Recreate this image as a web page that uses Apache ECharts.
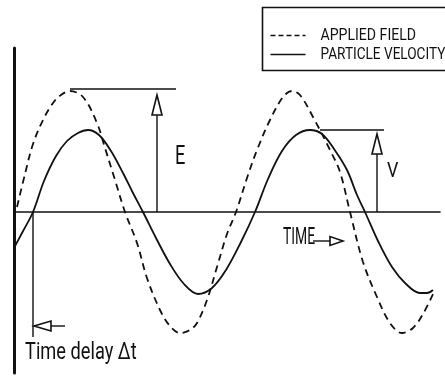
<!DOCTYPE html>
<html>
<head>
<meta charset="utf-8">
<script src="https://cdn.jsdelivr.net/npm/echarts@6/dist/echarts.min.js"></script>
<style>
  html, body { margin: 0; padding: 0; background: #fff; }
  #chart { width: 445px; height: 376px; }
</style>
</head>
<body>
<div id="chart"></div>
<script>
// Applied field (dashed) sampled over time: [time, amplitude]
const fieldTime   = [3, 11, 19, 29, 39, 47, 56, 69, 83, 91, 101, 111, 123, 133, 146, 156, 166, 176, 183, 193, 203, 213, 222, 233, 243, 256, 269, 278, 286, 299, 316, 326, 336, 349, 363, 376, 388, 399, 409, 419];
const fieldValues = [5, 38, 68, 92, 109, 117, 121, 115, 89, 64, 32, 0, -31, -66, -98, -114, -121, -118, -111, -88, -55, -22, 0, 34, 62, 92, 115, 121, 117, 95, 62, 40, 0, -50, -85, -111, -121, -116, -102, -82];

// Particle velocity (solid), lagging the field
const velocityTime   = [0, 8, 19, 30, 42, 53, 64, 74, 85, 97, 109, 119, 129, 142, 156, 170, 184, 198, 212, 227, 241, 254, 268, 282, 296, 308, 320, 333, 343, 351, 364, 378, 392, 406, 413, 419];
const velocityValues = [-36, -21, 0, 31, 56, 71, 79, 82, 77, 61, 39, 19, 0, -26, -52, -72, -82, -76, -58, -30, 0, 33, 61, 77, 82, 78, 63, 42, 17, 0, -29, -55, -72, -81, -81, -78];

// Legend entries
const seriesNames = ['APPLIED FIELD', 'PARTICLE VELOCITY'];

// Annotation geometry in chart units
const fieldPeak = 123;          // E level
const velocityPeak = 82;        // V level
const eLevel = { from: 56, to: 162, arrowX: 143, tip: 117 };
const vLevel = { from: 306, to: 370, arrowX: 363, tip: 78 };
const delay = { x: 19, bottom: -125, arrowY: -114, tail: 51 };
const timeArrow = { from: 299, to: 329, y: -29 };
const labels = [
  { text: 'E', x: 161, y: 55, size: 26, sx: 0.7 },
  { text: 'V', x: 373, y: 40, size: 21, sx: 0.85 },
  { text: 'TIME', x: 269, y: -26, size: 24, sx: 0.58 },
  { text: 'Time delay Δt', x: 11, y: -141, size: 24, sx: 0.76 }
];

const FONT = 'Roboto, "DejaVu Sans Condensed", sans-serif';
const INK = '#111';

function pairs(xs, ys) { return xs.map((x, i) => [x, ys[i]]); }

function upArrow(api, x, tip) {
  const t = api.coord([x, tip]);
  const b = api.coord([x, 0]);
  const headLen = 20, half = 5;
  return [
    { type: 'line', shape: { x1: t[0], y1: t[1] + headLen, x2: b[0], y2: b[1] }, style: { stroke: INK, lineWidth: 1.4 } },
    { type: 'polygon', shape: { points: [[t[0], t[1]], [t[0] - half, t[1] + headLen], [t[0] + half, t[1] + headLen]] }, style: { fill: '#fff', stroke: INK, lineWidth: 1.6 } }
  ];
}

function sideArrow(api, tipX, tailX, y, headLen, half, dir) {
  const t = api.coord([tipX, y]);
  const e = api.coord([tailX, y]);
  const base = t[0] - dir * headLen;
  return [
    { type: 'line', shape: { x1: base, y1: t[1], x2: e[0], y2: e[1] }, style: { stroke: INK, lineWidth: 1.4 } },
    { type: 'polygon', shape: { points: [[t[0], t[1]], [base, t[1] - half], [base, t[1] + half]] }, style: { fill: '#fff', stroke: INK, lineWidth: 1.6 } }
  ];
}

function hline(api, x0, x1, y) {
  const a = api.coord([x0, y]), b = api.coord([x1, y]);
  return { type: 'line', shape: { x1: a[0], y1: a[1], x2: b[0], y2: b[1] }, style: { stroke: INK, lineWidth: 1.6 } };
}

function renderAnnotations(params, api) {
  const children = [];
  children.push(hline(api, eLevel.from, eLevel.to, fieldPeak));
  children.push(...upArrow(api, eLevel.arrowX, eLevel.tip));
  children.push(hline(api, vLevel.from, vLevel.to, velocityPeak));
  children.push(...upArrow(api, vLevel.arrowX, vLevel.tip));

  const d0 = api.coord([delay.x, 0]), d1 = api.coord([delay.x, delay.bottom]);
  children.push({ type: 'line', shape: { x1: d0[0], y1: d0[1], x2: d1[0], y2: d1[1] }, style: { stroke: INK, lineWidth: 1.4 } });
  children.push(...sideArrow(api, delay.x + 1, delay.tail, delay.arrowY, 17, 5, -1));
  children.push(...sideArrow(api, timeArrow.to, timeArrow.from, timeArrow.y, 13, 4.5, 1));

  labels.forEach(l => {
    const p = api.coord([l.x, l.y]);
    children.push({
      type: 'text', x: p[0], y: p[1], scaleX: l.sx,
      style: { text: l.text, fill: INK, font: l.size + 'px ' + FONT, textAlign: 'left', textVerticalAlign: 'middle' }
    });
  });
  return { type: 'group', children };
}

const chart = echarts.init(document.getElementById('chart'), null, { renderer: 'canvas' });

chart.setOption({
  backgroundColor: '#fff',
  animation: false,
  grid: { left: 14, right: 5, top: 48, bottom: 3 },
  xAxis: {
    type: 'value', min: 0, max: 426,
    axisLine: { show: true, onZero: true, lineStyle: { color: INK, width: 1.6 } },
    axisTick: { show: false }, axisLabel: { show: false }, splitLine: { show: false }
  },
  yAxis: {
    type: 'value', min: -161, max: 164,
    axisLine: { show: true, lineStyle: { color: INK, width: 3 } },
    axisTick: { show: false }, axisLabel: { show: false }, splitLine: { show: false }
  },
  series: [
    {
      name: seriesNames[0], type: 'line', data: pairs(fieldTime, fieldValues),
      smooth: 0.35, symbol: 'none',
      lineStyle: { color: INK, width: 1.8, type: [7, 5] }
    },
    {
      name: seriesNames[1], type: 'line', data: pairs(velocityTime, velocityValues),
      smooth: 0.35, symbol: 'none',
      lineStyle: { color: INK, width: 1.8 }
    },
    {
      type: 'custom', coordinateSystem: 'cartesian2d', data: [[0, 0]],
      renderItem: renderAnnotations, silent: true, z: 5
    }
  ],
  graphic: [
    {
      type: 'group', left: 260, top: 5,
      children: [
        { type: 'rect', shape: { x: 0, y: 0, width: 190, height: 63 }, style: { fill: 'none', stroke: INK, lineWidth: 1.6 } },
        { type: 'line', shape: { x1: 8, y1: 28, x2: 43, y2: 28 }, style: { stroke: INK, lineWidth: 1.6, lineDash: [5, 3] } },
        { type: 'line', shape: { x1: 8, y1: 47, x2: 43, y2: 47 }, style: { stroke: INK, lineWidth: 1.6 } },
        { type: 'text', x: 58, y: 28, scaleX: 0.88, style: { text: seriesNames[0], fill: INK, font: '16px ' + FONT, textVerticalAlign: 'middle' } },
        { type: 'text', x: 58, y: 47, scaleX: 0.85, style: { text: seriesNames[1], fill: INK, font: '16px ' + FONT, textVerticalAlign: 'middle' } }
      ]
    }
  ]
});
</script>
</body>
</html>
